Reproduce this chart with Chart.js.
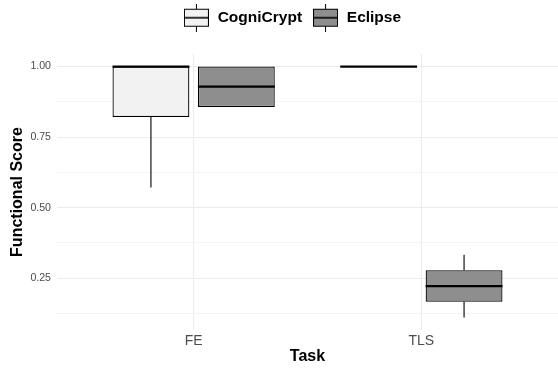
<!DOCTYPE html>
<html lang="en">
<head>
<meta charset="UTF-8">
<title>Functional Score by Task</title>
<script src="https://cdn.jsdelivr.net/npm/chart.js"></script>
<style>
  body { margin: 0; background: #fff; }
  canvas { display: block; }
</style>
</head>
<body>
<canvas id="scoreChart" width="558" height="368"></canvas>
<script>
const tasks = ['FE', 'TLS'];
const yTicks = [0.25, 0.5, 0.75, 1.0];
const yMinorTicks = [0.125, 0.375, 0.625, 0.875];

// box summaries per task (whisker low, q1, median, q3, whisker high)
const cogMin = [0.571, 1.0];
const cogQ1 = [0.821, 1.0];
const cogMedian = [1.0, 1.0];
const cogQ3 = [1.0, 1.0];
const cogMax = [1.0, 1.0];

const eclMin = [0.857, 0.111];
const eclQ1 = [0.857, 0.167];
const eclMedian = [0.929, 0.222];
const eclQ3 = [1.0, 0.278];
const eclMax = [1.0, 0.333];

const FONT = "'Liberation Sans', Arial, Helvetica, sans-serif";

const groups = [
    { name: 'CogniCrypt', fill: '#f2f2f2', lo: cogMin, q1: cogQ1, med: cogMedian, q3: cogQ3, hi: cogMax },
    { name: 'Eclipse', fill: '#8e8e8e', lo: eclMin, q1: eclQ1, med: eclMedian, q3: eclQ3, hi: eclMax }
];

function legendKey(fill) {
    const c = document.createElement('canvas');
    c.width = 25;
    c.height = 28;
    const g = c.getContext('2d');
    g.strokeStyle = '#000';
    g.lineWidth = 1;
    g.beginPath(); g.moveTo(12.5, 0); g.lineTo(12.5, 28); g.stroke();
    g.fillStyle = fill;
    g.fillRect(0.5, 5.5, 24, 17);
    g.strokeRect(0.5, 5.5, 24, 17);
    g.lineWidth = 1.6;
    g.beginPath(); g.moveTo(0.5, 14); g.lineTo(24.5, 14); g.stroke();
    return c;
}

// medians and whiskers, drawn on top of the floating bars
const boxParts = {
    id: 'boxParts',
    afterDatasetsDraw(chart) {
        const ctx = chart.ctx;
        const y = chart.scales.y;
        ctx.save();
        ctx.strokeStyle = '#000';
        groups.forEach((grp, d) => {
            chart.getDatasetMeta(d).data.forEach((bar, i) => {
                ctx.lineWidth = 1.1;
                ctx.beginPath();
                if (grp.hi[i] > grp.q3[i]) {
                    ctx.moveTo(bar.x, y.getPixelForValue(grp.q3[i]));
                    ctx.lineTo(bar.x, y.getPixelForValue(grp.hi[i]));
                }
                if (grp.lo[i] < grp.q1[i]) {
                    ctx.moveTo(bar.x, y.getPixelForValue(grp.q1[i]));
                    ctx.lineTo(bar.x, y.getPixelForValue(grp.lo[i]));
                }
                ctx.stroke();
                const my = y.getPixelForValue(grp.med[i]);
                ctx.lineWidth = 2.2;
                ctx.beginPath();
                ctx.moveTo(bar.x - bar.width / 2, my);
                ctx.lineTo(bar.x + bar.width / 2, my);
                ctx.stroke();
            });
        });
        ctx.restore();
    }
};

// room under the legend, and shift it over the panel like ggplot does
const legendSpacing = {
    id: 'legendSpacing',
    beforeInit(chart) {
        const fit = chart.legend.fit;
        chart.legend.fit = function () {
            fit.bind(chart.legend)();
            this.height += 18.5;
        };
    },
    afterLayout(chart) {
        chart.legend.left += 13;
        chart.legend.right += 13;
    }
};

new Chart(document.getElementById('scoreChart'), {
    type: 'bar',
    data: {
        datasets: groups.map(grp => ({
            label: grp.name,
            data: tasks.map((t, i) => ({ x: i + 1, y: [grp.q1[i], grp.q3[i]] })),
            backgroundColor: grp.fill,
            borderColor: '#000',
            borderWidth: 1.25,
            borderSkipped: false,
            categoryPercentage: 0.75,
            barPercentage: 0.9
        }))
    },
    options: {
        responsive: false,
        animation: false,
        devicePixelRatio: 1,
        layout: { padding: 0 },
        plugins: {
            tooltip: { enabled: false },
            legend: {
                position: 'top',
                labels: {
                    usePointStyle: true,
                    pointStyleWidth: 27,
                    padding: 10,
                    color: '#000',
                    font: { family: FONT, size: 15.5, weight: 'bold' },
                    generateLabels: () => groups.map(grp => ({
                        text: grp.name,
                        pointStyle: legendKey(grp.fill),
                        fontColor: '#000',
                        lineWidth: 0
                    }))
                }
            }
        },
        scales: {
            x: {
                type: 'linear',
                min: 0.4,
                max: 2.6,
                offset: false,
                afterBuildTicks: scale => { scale.ticks = tasks.map((t, i) => ({ value: i + 1 })); },
                afterFit: scale => { scale.height = 38; },
                ticks: {
                    callback: (v, i) => tasks[i],
                    color: '#4d4d4d',
                    font: { family: FONT, size: 14 },
                    padding: 3,
                    maxRotation: 0
                },
                grid: { color: '#ebebeb', lineWidth: 1, drawTicks: false, offset: false },
                border: { display: false },
                title: {
                    display: true,
                    text: 'Task',
                    color: '#000',
                    font: { family: FONT, size: 16, weight: 'bold' },
                    padding: { top: 0, bottom: 2 }
                }
            },
            y: {
                min: 0.0666,
                max: 1.0444,
                afterBuildTicks: scale => {
                    scale.ticks = yMinorTicks.concat(yTicks).sort((a, b) => a - b).map(v => ({ value: v }));
                },
                afterFit: scale => { scale.width = 57; },
                ticks: {
                    callback: v => yTicks.includes(v) ? v.toFixed(2) : '',
                    color: '#4d4d4d',
                    font: { family: FONT, size: 10.6 },
                    padding: 6
                },
                grid: {
                    color: c => yTicks.includes(c.tick.value) ? '#ebebeb' : '#f4f4f4',
                    lineWidth: 1,
                    drawTicks: false
                },
                border: { display: false },
                title: {
                    display: true,
                    text: 'Functional Score',
                    color: '#000',
                    font: { family: FONT, size: 16, weight: 'bold' },
                    padding: { top: 8, bottom: 0 }
                }
            }
        }
    },
    plugins: [boxParts, legendSpacing]
});
</script>
</body>
</html>
